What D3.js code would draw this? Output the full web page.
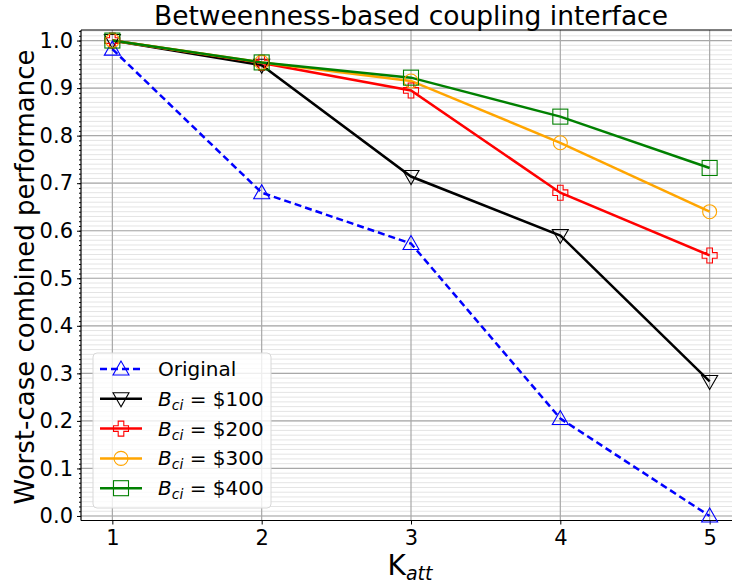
<!DOCTYPE html>
<html><head><meta charset="utf-8">
<script src="https://cdn.jsdelivr.net/npm/d3@7"></script>
<style>body{margin:0;background:#fff}svg{display:block;font-family:"DejaVu Sans",sans-serif}</style>
</head><body><svg id="c" width="732" height="585"></svg>
<script>
const xCats = [1, 2, 3, 4, 5];
const yTicks = [0.0, 0.1, 0.2, 0.3, 0.4, 0.5, 0.6, 0.7, 0.8, 0.9, 1.0];
const original = [0.982, 0.68, 0.573, 0.205, 0.0];
const b100 = [1.0, 0.948, 0.714, 0.59, 0.283];
const b200 = [1.0, 0.953, 0.895, 0.68, 0.548];
const b300 = [1.0, 0.954, 0.915, 0.785, 0.64];
const b400 = [1.0, 0.954, 0.922, 0.84, 0.732];
const title = "Betweenness-based coupling interface";
const yLabel = "Worst-case combined performance";

const series = [
  {name: "Original", values: original, color: "#0000ff", dash: "7,4", marker: "tri-up"},
  {name: "$100", values: b100, color: "#000000", dash: null, marker: "tri-down"},
  {name: "$200", values: b200, color: "#ff0000", dash: null, marker: "plus"},
  {name: "$300", values: b300, color: "#ffa500", dash: null, marker: "circle"},
  {name: "$400", values: b400, color: "#008000", dash: null, marker: "square"}
];

const svg = d3.select("#c");
const L = 81, R = 741, T = 30, B = 520.5;
const x = d3.scaleLinear().domain([0.79, 5.21]).range([L, R]);
const y = d3.scaleLinear().domain([-0.0095, 1.0222]).range([B, T]);

const g = svg.append("g");
const minor = d3.range(0, 103).map(i => i / 100).filter(v => y(v) >= T && y(v) <= B);
g.append("g").selectAll("line").data(minor).join("line")
  .attr("x1", L).attr("x2", R).attr("y1", d => y(d)).attr("y2", d => y(d))
  .attr("stroke", "#e4e4e4").attr("stroke-width", 1);
g.append("g").selectAll("line").data(yTicks).join("line")
  .attr("x1", L).attr("x2", R).attr("y1", d => y(d)).attr("y2", d => y(d))
  .attr("stroke", "#a8a8a8").attr("stroke-width", 1.2);
g.append("g").selectAll("line").data(xCats).join("line")
  .attr("y1", T).attr("y2", B).attr("x1", d => x(d)).attr("x2", d => x(d))
  .attr("stroke", "#a8a8a8").attr("stroke-width", 1.2);

const yAxis = d3.axisLeft(y).tickValues(yTicks).tickFormat(d3.format(".1f")).tickSize(4).tickPadding(4);
const ya = svg.append("g").attr("transform", `translate(${L},0)`).call(yAxis);
ya.select(".domain").remove();
ya.selectAll("text").attr("font-size", 21).attr("fill", "#000").attr("font-family", "DejaVu Sans");
const yMinor = d3.axisLeft(y).tickValues(minor).tickFormat("").tickSize(2);
const ym = svg.append("g").attr("transform", `translate(${L},0)`).call(yMinor);
ym.select(".domain").remove();

const xAxis = d3.axisBottom(x).tickValues(xCats).tickFormat(d3.format("d")).tickSize(4).tickPadding(6);
const xa = svg.append("g").attr("transform", `translate(0,${B})`).call(xAxis);
xa.select(".domain").remove();
xa.selectAll("text").attr("font-size", 21).attr("fill", "#000").attr("font-family", "DejaVu Sans");

svg.append("line").attr("x1", L).attr("x2", L).attr("y1", T).attr("y2", B).attr("stroke", "#000").attr("stroke-width", 1.2);
svg.append("line").attr("x1", L).attr("x2", R).attr("y1", B).attr("y2", B).attr("stroke", "#000").attr("stroke-width", 1.2);
svg.append("line").attr("x1", L).attr("x2", R).attr("y1", T).attr("y2", T).attr("stroke", "#000").attr("stroke-width", 1.2);

function drawMarker(sel, type, color, cx, cy) {
  const s = 8;
  let el;
  if (type === "tri-up") {
    el = sel.append("path").attr("d", `M${cx},${cy - s}L${cx - s},${cy + s * 0.75}L${cx + s},${cy + s * 0.75}Z`);
  } else if (type === "tri-down") {
    el = sel.append("path").attr("d", `M${cx},${cy + s}L${cx - s},${cy - s * 0.75}L${cx + s},${cy - s * 0.75}Z`);
  } else if (type === "plus") {
    const a = 7.5, b = 2.8;
    el = sel.append("path").attr("d",
      `M${cx - b},${cy - a}H${cx + b}V${cy - b}H${cx + a}V${cy + b}H${cx + b}V${cy + a}H${cx - b}V${cy + b}H${cx - a}V${cy - b}H${cx - b}Z`);
  } else if (type === "circle") {
    el = sel.append("circle").attr("cx", cx).attr("cy", cy).attr("r", 7);
  } else {
    el = sel.append("rect").attr("x", cx - 7.5).attr("y", cy - 7.5).attr("width", 15).attr("height", 15);
  }
  el.attr("fill", "none").attr("stroke", color).attr("stroke-width", 1.1);
}

const line = d3.line().x((d, i) => x(xCats[i])).y(d => y(d));
const plot = svg.append("g");
series.forEach(s => {
  plot.append("path").attr("d", line(s.values)).attr("fill", "none")
    .attr("stroke", s.color).attr("stroke-width", 2.5)
    .attr("stroke-dasharray", s.dash);
});
series.forEach(s => {
  s.values.forEach((v, i) => drawMarker(plot, s.marker, s.color, x(xCats[i]), y(v)));
});

const lg = svg.append("g");
lg.append("rect").attr("x", 93).attr("y", 353).attr("width", 178).attr("height", 155).attr("rx", 4)
  .attr("fill", "rgba(255,255,255,0.8)").attr("stroke", "#d8d8d8").attr("stroke-width", 1);
series.forEach((s, i) => {
  const yy = 369 + i * 29.8;
  lg.append("line").attr("x1", 100).attr("x2", 142).attr("y1", yy).attr("y2", yy)
    .attr("stroke", s.color).attr("stroke-width", 2.5).attr("stroke-dasharray", s.dash);
  drawMarker(lg, s.marker, s.color, 121, yy);
  const t = lg.append("text").attr("x", 158).attr("y", yy + 7).attr("font-size", 20).attr("fill", "#000");
  if (i === 0) {
    t.text(s.name);
  } else {
    t.append("tspan").attr("font-style", "italic").text("B");
    t.append("tspan").attr("font-style", "italic").attr("font-size", 14).attr("dy", 4).text("ci");
    t.append("tspan").attr("dy", -4).text(" = " + s.name);
  }
});

svg.append("text").attr("x", 411).attr("y", 25).attr("text-anchor", "middle")
  .attr("font-size", 26.5).attr("fill", "#000").text(title);
svg.append("text").attr("transform", "translate(34,277) rotate(-90)").attr("text-anchor", "middle")
  .attr("font-size", 26).attr("fill", "#000").text(yLabel);
const xl = svg.append("text").attr("x", 410).attr("y", 575).attr("text-anchor", "middle")
  .attr("font-size", 28).attr("fill", "#000");
xl.append("tspan").text("K");
xl.append("tspan").attr("font-style", "italic").attr("font-size", 19).attr("dy", 5).text("att");
</script>
</body></html>
